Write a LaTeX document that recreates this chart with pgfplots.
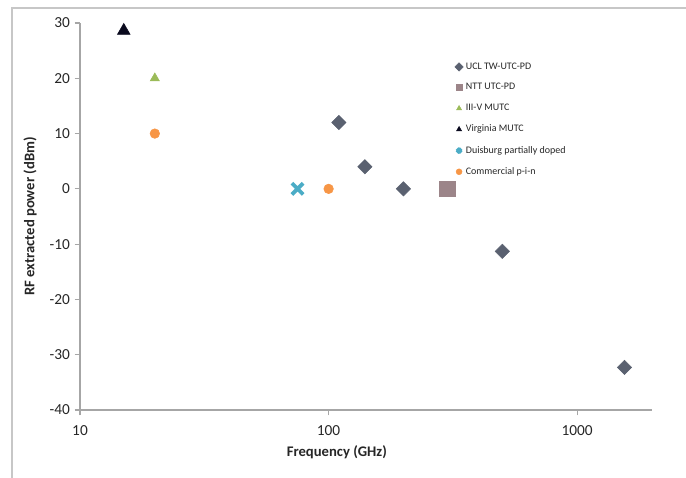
\documentclass[border=0pt]{standalone}
\usepackage{pgfplots}
\pgfplotsset{compat=1.18}
\usepackage{fontspec}
\setmainfont{Carlito}
\definecolor{ucl}{HTML}{5A6170}
\definecolor{ntt}{HTML}{9C8589}
\definecolor{threev}{HTML}{9BBB59}
\definecolor{virg}{HTML}{0A0A1E}
\definecolor{duis}{HTML}{4BACC6}
\definecolor{comm}{HTML}{F79646}
\definecolor{axgray}{HTML}{A6A6A6}
\definecolor{txt}{HTML}{262626}
\begin{document}
\begin{tikzpicture}
\useasboundingbox (0,0) rectangle (514.5pt,358.5pt);
\draw[color=black!22, line width=1.1pt] (9pt,0) -- (9pt,352.5pt) -- (514.5pt,352.5pt);
\begin{axis}[
  at={(60pt,51pt)}, anchor=south west,
  scale only axis, width=429pt, height=290.25pt,
  xmode=log, xmin=10, xmax=2000,
  ymin=-40, ymax=30,
  xtick={10,100,1000}, xticklabels={10,100,1000},
  ytick={-40,-30,-20,-10,0,10,20,30},
  xminorticks=false,
  axis lines=left, axis line style={-, color=axgray, line width=0.8pt},
  tick style={color=axgray, line width=0.8pt}, tick align=outside, major tick length=4pt,
  /pgf/number format/assume math mode=true,
  ticklabel style={font=\fontsize{11.5}{13}\selectfont, color=txt},
  xticklabel style={yshift=-4.5pt},
  label style={font=\bfseries\fontsize{11}{13}\selectfont, color=txt},
  xlabel={Frequency (GHz)},
  ylabel={RF extracted power (dBm)},
  xlabel style={at={(axis description cs:0.449,-0.1085)}, anchor=center},
  ylabel style={at={(axis description cs:-0.0874,0.5)}, anchor=center},
  legend style={draw=none, fill=none, at={(axis description cs:0.655,0.905)}, anchor=north west,
    font=\fontsize{7.5}{9}\selectfont, row sep=5.2pt, inner sep=0pt, text=txt},
  legend cell align=left,
  legend image code/.code={\draw[mark size=2.2pt, #1] plot coordinates {(0.12cm,0cm)};},
  clip=false,
]
\addplot[only marks, mark=square*, mark size=3.8pt, mark options={rotate=45, fill=ucl, draw=ucl}] coordinates {
 (110,12) (140,4) (200,0) (500,-11.3) (1550,-32.3)};
\addlegendentry{UCL TW-UTC-PD}
\addplot[only marks, mark=square*, mark size=5.8pt, mark options={fill=ntt, draw=ntt}] coordinates {(300,0)};
\addlegendentry{NTT UTC-PD}
\addplot[only marks, mark=triangle*, mark size=4pt, mark options={fill=threev, draw=threev}] coordinates {(20,20)};
\addlegendentry{III-V MUTC}
\addplot[only marks, mark=triangle*, mark size=5.5pt, mark options={fill=virg, draw=virg}] coordinates {(15,28.6)};
\addlegendentry{Virginia MUTC}
\addplot[only marks, mark=x, mark size=6pt, mark options={draw=duis, line width=2.8pt}] coordinates {(75,0)};
\addlegendentry{Duisburg partially doped}
\addplot[only marks, mark=*, mark size=3.6pt, mark options={fill=comm, draw=comm}] coordinates {(20,10) (100,0)};
\addlegendentry{Commercial p-i-n}
\end{axis}
\end{tikzpicture}
\end{document}
